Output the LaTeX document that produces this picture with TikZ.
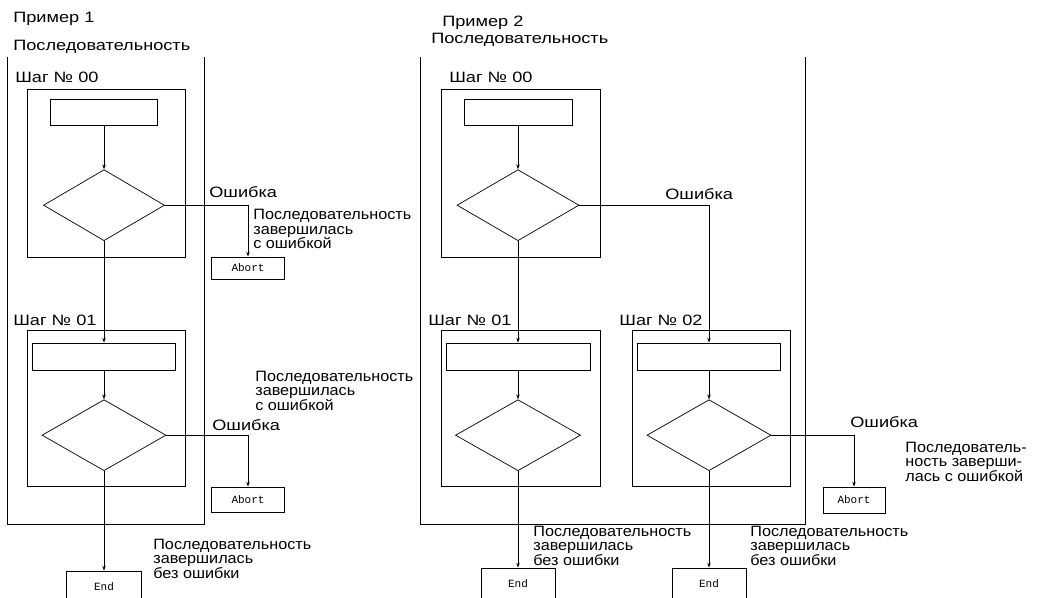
\documentclass[tikz,border=0pt]{standalone}
\usepackage{fontspec}
\setmainfont{Liberation Sans}[FakeStretch=1.21]
\newfontfamily\notefont{Liberation Sans}[FakeStretch=1.08]
\newfontfamily\codefont{Liberation Mono}
\usetikzlibrary{arrows.meta,positioning,shapes.geometric}

\begin{document}
\begin{tikzpicture}[
    x=1pt, y=-1pt,
    line width=0.7pt,
    stepbox/.style={draw, minimum width=158pt, minimum height=#1, inner sep=0pt},
    stepbox/.default=168pt,
    act/.style={draw, minimum width=143pt, minimum height=27pt, inner sep=0pt},
    cond/.style={draw, diamond, minimum width=124pt, minimum height=71pt, inner sep=0pt},
    term/.style={draw, minimum width=74pt, minimum height=32pt, inner sep=0pt,
                 font=\codefont\fontsize{11pt}{12pt}\selectfont},
    title/.style={anchor=base west, inner sep=0pt, font=\fontsize{15pt}{18pt}\selectfont},
    note/.style={anchor=north west, inner sep=0pt, align=left,
                 font=\notefont\fontsize{15pt}{13.5pt}\selectfont},
    arr/.style={-{Stealth[length=5pt,width=3.5pt]}}
]
    \clip (0,0) rectangle (1041,597);

    % Example 1
    \node[title] (p1) at (13,23) {Пример 1};
    \node[title] (q1) at (13,50) {Последовательность};
    \draw (7,57) -- (7,524) -- (204,524) -- (204,57);

    \node[title] (t1a) at (15,82) {Шаг № 00};
    \node[stepbox] (s1a) at (106,173) {};
    \node[act, minimum width=107pt, minimum height=26pt] (r1a) at (104,112) {};
    \node[cond, minimum width=121pt, below=44pt of r1a] (d1a) {};
    \node[title] (e1a) at (209,197) {Ошибка};
    \node[term, minimum width=73pt, minimum height=22pt] (ab1a) at (248,268) {Abort};
    \node[note, font=\notefont\fontsize{15pt}{14.5pt}\selectfont] (n1a) at (253,209)
        {Последовательность\\завершилась\\с ошибкой};

    \node[title] (t1b) at (13,325) {Шаг № 01};
    \node[stepbox=156pt] (s1b) at (106,408) {};
    \node[act] (r1b) at (104,356.5) {};
    \node[cond, below=29pt of r1b] (d1b) {};
    \node[title] (e1b) at (212,430) {Ошибка};
    \node[term, minimum width=73pt, minimum height=25pt] (ab1b) at (248,499.5) {Abort};
    \node[note] (n1b) at (255,371) {Последовательность\\завершилась\\с ошибкой};

    \node[term, minimum width=75pt] (end1) at (104,587) {End};
    \node[note] (n1c) at (153,539) {Последовательность\\завершилась\\без ошибки};

    \draw[arr] (r1a) -- (d1a);
    \draw[arr] (d1a) -- (r1b);
    \draw[arr] (d1a.east) -| (ab1a.north);
    \draw[arr] (r1b) -- (d1b);
    \draw[arr] (d1b.east) -| (ab1b.north);
    \draw[arr] (d1b) -- (end1);

    % Example 2
    \node[title] (p2) at (442,27) {Пример 2};
    \node[title] (q2) at (431,43) {Последовательность};
    \draw (420,57) -- (420,524) -- (805,524) -- (805,57);

    \node[title] (t2a) at (449,82) {Шаг № 00};
    \node[stepbox, minimum width=159pt] (s2a) at (520.5,173) {};
    \node[act, minimum width=108pt, minimum height=26pt] (r2a) at (518,112) {};
    \node[cond, minimum width=122pt, below=44pt of r2a] (d2a) {};
    \node[title] (e2a) at (665,199) {Ошибка};

    \node[title] (t2b) at (428,325) {Шаг № 01};
    \node[stepbox=156pt, minimum width=159pt] (s2b) at (520.5,408) {};
    \node[act, minimum width=144pt] (r2b) at (518,356.5) {};
    \node[cond, minimum width=125pt, below=29pt of r2b] (d2b) {};
    \node[term] (end2) at (518,584) {End};
    \node[note] (n2b) at (533,526) {Последовательность\\завершилась\\без ошибки};

    \node[title] (t2c) at (619,325) {Шаг № 02};
    \node[stepbox=156pt] (s2c) at (711,408) {};
    \node[act] (r2c) at (709,356.5) {};
    \node[cond, below=29pt of r2c] (d2c) {};
    \node[title] (e2c) at (850,427) {Ошибка};
    \node[term, minimum width=62pt, minimum height=26pt] (ab2c) at (854,500) {Abort};
    \node[note] (n2c) at (905,442) {Последователь-\\ность заверши-\\лась с ошибкой};
    \node[term] (end3) at (709,584) {End};
    \node[note] (n2d) at (750,526) {Последовательность\\завершилась\\без ошибки};

    \draw[arr] (r2a) -- (d2a);
    \draw[arr] (d2a) -- (r2b);
    \draw[arr] (d2a.east) -| (r2c.north);
    \draw[arr] (r2b) -- (d2b);
    \draw[arr] (r2c) -- (d2c);
    \draw[arr] (d2b) -- (end2);
    \draw[arr] (d2c) -- (end3);
    \draw[arr] (d2c.east) -| (ab2c.north);
\end{tikzpicture}
\end{document}
